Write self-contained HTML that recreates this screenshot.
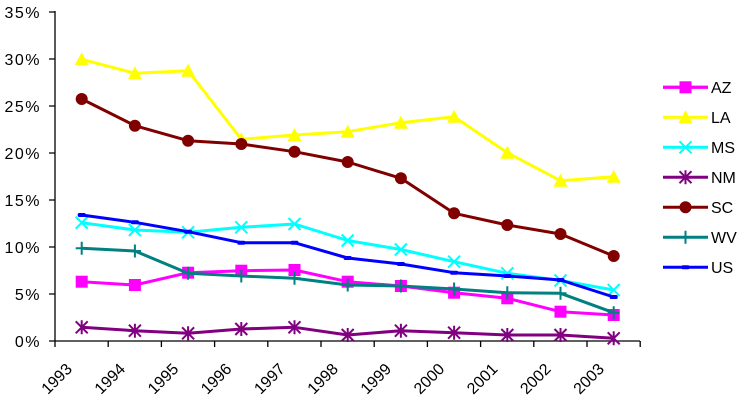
<!DOCTYPE html>
<html><head><meta charset="utf-8"><style>
html,body{margin:0;padding:0;background:#fff;}
svg{display:block;}
text{font-family:"Liberation Sans",Arial,sans-serif;fill:#000;}
</style></head><body>
<svg width="742" height="404" viewBox="0 0 742 404" xmlns="http://www.w3.org/2000/svg">
<defs>
<marker id="mAZ" markerUnits="userSpaceOnUse" markerWidth="20" markerHeight="20" refX="10" refY="10" overflow="visible"><rect x="4" y="4" width="12" height="12" fill="#FF00FF"/></marker>
<marker id="mLA" markerUnits="userSpaceOnUse" markerWidth="20" markerHeight="20" refX="10" refY="10" overflow="visible"><polygon points="10,3 17,16 3,16" fill="#FFFF00"/></marker>
<marker id="mMS" markerUnits="userSpaceOnUse" markerWidth="20" markerHeight="20" refX="10" refY="10" overflow="visible"><path d="M4,4 L16,16 M16,4 L4,16" stroke="#00FFFF" stroke-width="2"/></marker>
<marker id="mNM" markerUnits="userSpaceOnUse" markerWidth="20" markerHeight="20" refX="10" refY="10" overflow="visible"><path d="M4,4 L16,16 M16,4 L4,16 M10,3 L10,17" stroke="#800080" stroke-width="2"/></marker>
<marker id="mSC" markerUnits="userSpaceOnUse" markerWidth="20" markerHeight="20" refX="10" refY="10" overflow="visible"><circle cx="10" cy="10" r="6" fill="#800000"/></marker>
<marker id="mWV" markerUnits="userSpaceOnUse" markerWidth="20" markerHeight="20" refX="10" refY="10" overflow="visible"><path d="M10,3.5 L10,16.5 M4,10 L16,10" stroke="#008080" stroke-width="2"/></marker>
<marker id="mUS" markerUnits="userSpaceOnUse" markerWidth="20" markerHeight="20" refX="10" refY="10" overflow="visible"><rect x="6" y="8" width="8" height="4" rx="1.5" fill="#0000FF"/></marker>
</defs>

<!-- axes -->
<g stroke="#000" stroke-width="1.3" fill="none">
<line x1="55" y1="11" x2="55" y2="341.5"/>
<line x1="54.5" y1="341" x2="640" y2="341"/>
<path d="M49,12 H55 M49,59 H55 M49,106 H55 M49,153 H55 M49,200 H55 M49,247 H55 M49,294 H55 M49,341 H55"/>
<path d="M55,341 V347 M108.2,341 V347 M161.4,341 V347 M214.6,341 V347 M267.8,341 V347 M321,341 V347 M374.2,341 V347 M427.4,341 V347 M480.6,341 V347 M533.8,341 V347 M587,341 V347 M640.2,341 V347"/>
</g>

<!-- y labels -->
<g font-size="16" text-anchor="end" letter-spacing="1.5">
<text x="41" y="18">35%</text>
<text x="41" y="65">30%</text>
<text x="41" y="112">25%</text>
<text x="41" y="159">20%</text>
<text x="41" y="206">15%</text>
<text x="41" y="253">10%</text>
<text x="41" y="300">5%</text>
<text x="41" y="347">0%</text>
</g>

<!-- x labels -->
<g font-size="16" text-anchor="end">
<text transform="translate(73,370) rotate(-45)">1993</text>
<text transform="translate(126.2,370) rotate(-45)">1994</text>
<text transform="translate(179.4,370) rotate(-45)">1995</text>
<text transform="translate(232.6,370) rotate(-45)">1996</text>
<text transform="translate(285.8,370) rotate(-45)">1997</text>
<text transform="translate(339,370) rotate(-45)">1998</text>
<text transform="translate(392.2,370) rotate(-45)">1999</text>
<text transform="translate(445.4,370) rotate(-45)">2000</text>
<text transform="translate(498.6,370) rotate(-45)">2001</text>
<text transform="translate(551.8,370) rotate(-45)">2002</text>
<text transform="translate(605,370) rotate(-45)">2003</text>
</g>

<!-- series -->
<g fill="none" stroke-width="3" stroke-linejoin="round">
<polyline stroke="#FF00FF" marker-start="url(#mAZ)" marker-mid="url(#mAZ)" marker-end="url(#mAZ)" points="81.7,281.7 134.9,285 188.1,272.7 241.3,270.7 294.5,270 347.7,281.7 400.9,286 454.1,292.7 507.3,298.3 560.5,311.7 613.7,315"/>
<polyline stroke="#FFFF00" marker-start="url(#mLA)" marker-mid="url(#mLA)" marker-end="url(#mLA)" points="81.7,59.3 134.9,73.3 188.1,70.7 241.3,139.3 294.5,135 347.7,131.7 400.9,122.7 454.1,116.7 507.3,152.7 560.5,180.7 613.7,176.7"/>
<polyline stroke="#00FFFF" marker-start="url(#mMS)" marker-mid="url(#mMS)" marker-end="url(#mMS)" points="81.7,222.7 134.9,230 188.1,232.3 241.3,227.3 294.5,224 347.7,240.5 400.9,249.5 454.1,261.7 507.3,273.3 560.5,280.5 613.7,290"/>
<polyline stroke="#800080" marker-start="url(#mNM)" marker-mid="url(#mNM)" marker-end="url(#mNM)" points="81.7,327.3 134.9,330.7 188.1,333.3 241.3,329 294.5,327.3 347.7,335 400.9,330.7 454.1,332.7 507.3,335 560.5,335 613.7,338.3"/>
<polyline stroke="#800000" marker-start="url(#mSC)" marker-mid="url(#mSC)" marker-end="url(#mSC)" points="81.7,99 134.9,125.7 188.1,140.7 241.3,144 294.5,151.7 347.7,162 400.9,178.3 454.1,213.3 507.3,225 560.5,234 613.7,256"/>
<polyline stroke="#008080" marker-start="url(#mWV)" marker-mid="url(#mWV)" marker-end="url(#mWV)" points="81.7,248.3 134.9,251 188.1,273.3 241.3,276 294.5,278.3 347.7,285 400.9,286 454.1,289 507.3,292.7 560.5,293.3 613.7,312.7"/>
<polyline stroke="#0000FF" marker-start="url(#mUS)" marker-mid="url(#mUS)" marker-end="url(#mUS)" points="81.7,215 134.9,222.3 188.1,231.7 241.3,242.7 294.5,242.7 347.7,258 400.9,264 454.1,272.7 507.3,276 560.5,280 613.7,297"/>
</g>

<!-- legend -->
<g fill="none" stroke-width="3">
<line x1="663" y1="87.3" x2="708" y2="87.3" stroke="#FF00FF" marker-mid="url(#mAZ)"/>
<polyline points="663,87.3 685.5,87.3 708,87.3" stroke="#FF00FF" marker-mid="url(#mAZ)"/>
<polyline points="663,117.3 685.5,117.3 708,117.3" stroke="#FFFF00" marker-mid="url(#mLA)"/>
<polyline points="663,147.3 685.5,147.3 708,147.3" stroke="#00FFFF" marker-mid="url(#mMS)"/>
<polyline points="663,177.2 685.5,177.2 708,177.2" stroke="#800080" marker-mid="url(#mNM)"/>
<polyline points="663,207.2 685.5,207.2 708,207.2" stroke="#800000" marker-mid="url(#mSC)"/>
<polyline points="663,237.2 685.5,237.2 708,237.2" stroke="#008080" marker-mid="url(#mWV)"/>
<polyline points="663,267.2 685.5,267.2 708,267.2" stroke="#0000FF" marker-mid="url(#mUS)"/>
</g>
<g font-size="16">
<text x="711" y="93">AZ</text>
<text x="711" y="123">LA</text>
<text x="711" y="153">MS</text>
<text x="711" y="183">NM</text>
<text x="711" y="213">SC</text>
<text x="711" y="243">WV</text>
<text x="711" y="273">US</text>
</g>
</svg>
</body></html>
